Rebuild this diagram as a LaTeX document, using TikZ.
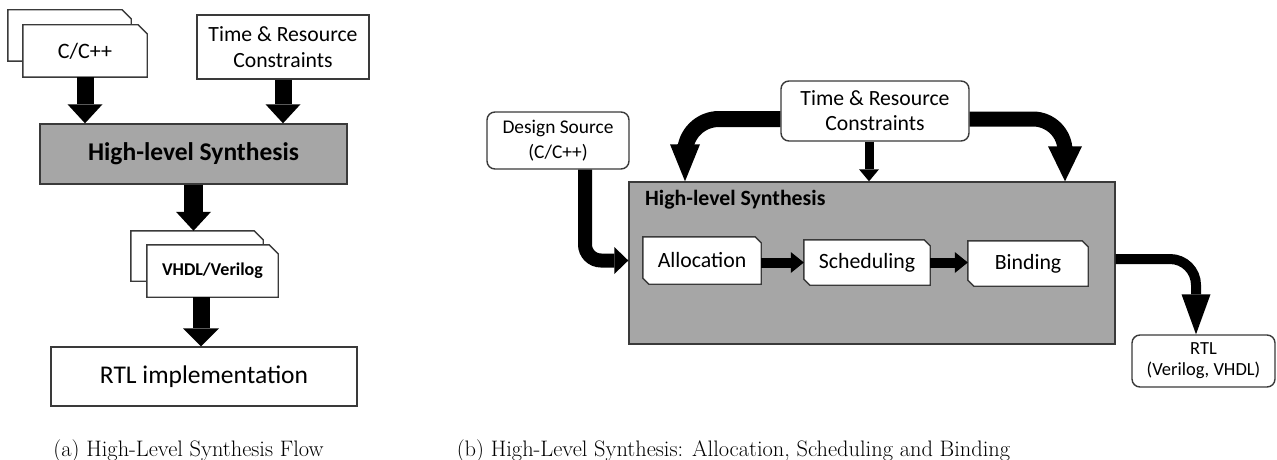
\documentclass[tikz,border=0pt]{standalone}
\usepackage{fontspec}
\newfontfamily\carl{Carlito}
\usetikzlibrary{arrows.meta}
\pgfdeclarelayer{bg}
\pgfdeclarelayer{mid}
\pgfsetlayers{bg,mid,main}
\definecolor{edge}{HTML}{3A3A3A}
\definecolor{hlsgray}{HTML}{A6A6A6}
\newcommand\docpath[1]{\draw[boxline,fill=white] (#1.south west) -- (#1.north west) -- ([xshift=-9pt]#1.north east) -- ([yshift=-9pt]#1.north east) -- (#1.south east) -- cycle;}
\newcommand\champath[1]{\draw[boxline,fill=white] ([yshift=6pt]#1.south west) -- (#1.north west) -- ([xshift=-6pt]#1.north east) -- ([yshift=-6pt]#1.north east) -- (#1.south east) -- ([xshift=6pt]#1.south west) -- cycle;}
\begin{document}
\begin{tikzpicture}[x=1pt,y=-1pt,
  boxline/.style={draw=edge,line width=1.4pt},
  slot/.style={inner sep=0pt,align=center,text=black},
  rbox/.style={slot,boxline,fill=white,rounded corners=8pt},
  blk/.style n args={3}{draw=black,line width=#1,-{Triangle[width=#2,length=#3,line width=0pt]}},
  captxt/.style={anchor=base,font=\fontsize{22.4}{27}\selectfont}]
\useasboundingbox (0,0) rectangle (1277,460);

% ---------------- (a) ----------------
\node[slot,minimum width=123pt,minimum height=51pt] (cback) at (69.5,35.5) {};
\node[slot,minimum width=124pt,minimum height=52pt,font=\carl\fontsize{22}{26}\selectfont] (cdoc) at (85,51) {C/C++};
\begin{pgfonlayer}{mid}
\docpath{cback}
\docpath{cdoc}
\end{pgfonlayer}
\node[slot,boxline,fill=white,minimum width=172pt,minimum height=64pt,font=\carl\fontsize{21.7}{26}\selectfont] (consa) at (283,47) {Time \& Resource\\Constraints};
\node[slot,boxline,fill=hlsgray,minimum width=307pt,minimum height=60pt,font=\carl\bfseries\fontsize{25.5}{30}\selectfont] (hlsa) at (193.5,154) {High-level Synthesis};
\node[slot,minimum width=132pt,minimum height=50pt] (vback) at (197,256) {};
\node[slot,minimum width=131pt,minimum height=52pt,font=\carl\bfseries\fontsize{18}{22}\selectfont] (vdoc) at (212.5,271) {VHDL/Verilog};
\begin{pgfonlayer}{mid}
\docpath{vback}
\docpath{vdoc}
\end{pgfonlayer}
\node[slot,boxline,fill=white,minimum width=306pt,minimum height=59pt,font=\carl\fontsize{25.5}{30}\selectfont] (rtla) at (204,376.5) {RTL implementation};

\draw[blk={17pt}{35pt}{19pt}] (cdoc.south) -- (cdoc.south |- hlsa.north);
\draw[blk={17pt}{35pt}{19pt}] (consa.south) -- (consa.south |- hlsa.north);
\draw[blk={19pt}{35pt}{19pt}] (hlsa.south) -- (hlsa.south |- vback.north);
\draw[blk={17pt}{36pt}{18pt}] ([xshift=-3pt]rtla.north |- vdoc.south) -- ([xshift=-3pt]rtla.north);

\node[captxt] (capa) at (188.5,456) {(a) High-Level Synthesis Flow};

% ---------------- (b) ----------------
\begin{pgfonlayer}{bg}
\node[slot,boxline,fill=hlsgray,minimum width=486pt,minimum height=162pt] (hlsb) at (872,263) {};
\end{pgfonlayer}
\node[slot,anchor=west,font=\carl\bfseries\fontsize{21.8}{26}\selectfont] (hlslab) at (645,200) {High-level Synthesis};
\node[slot,minimum width=118pt,minimum height=47pt,font=\carl\fontsize{21.8}{26}\selectfont] (alloc) at (702,260.5) {Allocation};
\node[slot,minimum width=126pt,minimum height=45pt,font=\carl\fontsize{21.8}{26}\selectfont] (sched) at (867,262.5) {Scheduling};
\node[slot,minimum width=120pt,minimum height=45pt,font=\carl\fontsize{21.8}{26}\selectfont] (bind) at (1028,263.5) {Binding};
\begin{pgfonlayer}{mid}
\champath{alloc}
\champath{sched}
\champath{bind}
\end{pgfonlayer}
\node[rbox,minimum width=142pt,minimum height=57pt,font=\carl\fontsize{19.4}{25}\selectfont] (design) at (558,140.5) {Design Source\\(C/C++)};
\node[rbox,minimum width=188pt,minimum height=60pt,font=\carl\fontsize{21.7}{25}\selectfont] (consb) at (875,111) {Time \& Resource\\Constraints};
\node[rbox,minimum width=143pt,minimum height=52pt,font=\carl\fontsize{18.5}{21}\selectfont] (rtlb) at (1203.5,361) {RTL\\(Verilog, VHDL)};

\draw[blk={10pt}{21pt}{13pt}] (alloc.east |- sched.west) -- (sched.west);
\draw[blk={10pt}{21pt}{13pt}] (sched.east) -- (bind.west |- sched.east);
\draw[blk={14pt}{27pt}{14pt},rounded corners=16pt] ([xshift=27pt]design.south) |- (hlsb.west |- alloc.west);
\draw[blk={16pt}{30pt}{37pt},rounded corners=34pt] ([yshift=-8pt]consb.west) -| ([xshift=-187pt]hlsb.north);
\draw[blk={9pt}{20pt}{12pt}] ([xshift=-6pt]consb.south) -- ([xshift=-6pt]consb.south |- hlsb.north);
\draw[blk={15pt}{34pt}{35pt},rounded corners=32pt] ([yshift=-8pt]consb.east) -| ([xshift=193pt]hlsb.north);
\draw[blk={10pt}{29pt}{40pt},rounded corners=26pt] ([yshift=4pt]hlsb.east) -| ([xshift=-7.5pt]rtlb.north);

\node[captxt] (capb) at (733.5,456) {(b) High-Level Synthesis: Allocation, Scheduling and Binding};
\end{tikzpicture}
\end{document}
